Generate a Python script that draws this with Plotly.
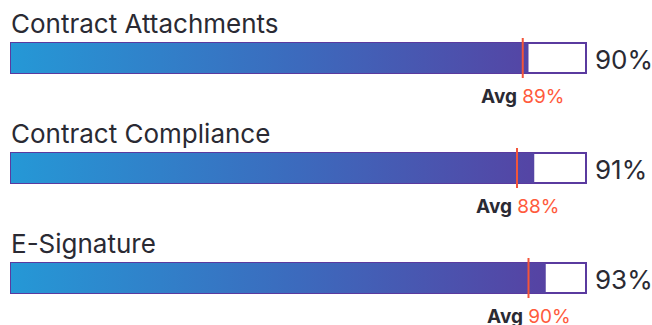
import plotly.graph_objects as go

categories = ["Contract Attachments", "Contract Compliance", "E-Signature"]
values = [90, 91, 93]
averages = [89, 88, 90]

TEXT = "#2a2a33"
RED = "#f3553a"
PURPLE = "#5a3a9f"
FONT = "Inter"

ROW0 = 58      # centre of first bar in y units (page pixel-like)
STEP = 110     # row spacing
HALF = 15      # half bar thickness

W, H = 652, 325

fig = go.Figure()
shapes = []
annotations = []

for i, (cat, v, a) in enumerate(zip(categories, values, averages)):
    c = ROW0 + STEP * i
    top, bot = c - HALF, c + HALF
    shapes.append(dict(type="rect", xref="x", yref="y", x0=0, x1=100, y0=top, y1=bot,
                       line=dict(color=PURPLE, width=2), fillcolor="white", layer="below"))
    fig.add_trace(go.Scatter(
        x=[0, v, v, 0, 0], y=[top, top, bot, bot, top],
        mode="lines", line=dict(width=0), fill="toself",
        fillgradient=dict(type="horizontal", start=0, stop=100,
                          colorscale=[[0, "#2598d6"], [0.5, "#3c6abd"], [1, "#5a3c9f"]]),
        hoverinfo="skip", showlegend=False))
    shapes.append(dict(type="line", xref="x", yref="y", x0=a, x1=a, y0=top - 5, y1=bot + 5,
                       line=dict(color=RED, width=2), layer="above"))
    annotations.append(dict(x=0, y=c - 35, xref="x", yref="y", text=cat, showarrow=False,
                            xanchor="left", yanchor="middle", xshift=-2,
                            font=dict(family=FONT, size=26, color=TEXT)))
    annotations.append(dict(x=100, y=c + 1, xref="x", yref="y", text=f"{v}%", showarrow=False,
                            xanchor="left", yanchor="middle", xshift=7,
                            font=dict(family=FONT, size=26, color=TEXT)))
    annotations.append(dict(x=a, y=c + 38.5, xref="x", yref="y",
                            text=f"<b>Avg</b> <span style='color:#ff5a3c'>{a}%</span>",
                            showarrow=False, xanchor="center", yanchor="middle",
                            font=dict(family=FONT, size=19, color=TEXT)))

px_per_unit = 5.75
fig.update_layout(
    width=W, height=H,
    margin=dict(l=0, r=0, t=0, b=0),
    paper_bgcolor="white", plot_bgcolor="white",
    xaxis=dict(range=[-11 / px_per_unit, (W - 11) / px_per_unit], visible=False, fixedrange=True),
    yaxis=dict(range=[H, 0], visible=False, fixedrange=True),
    shapes=shapes, annotations=annotations,
    showlegend=False,
)

fig.write_html(
    "out.html",
    config={"displayModeBar": False},
    post_script="document.body.style.margin='0';"
                "document.documentElement.style.overflow='hidden';"
                "document.body.style.overflow='hidden';",
)
